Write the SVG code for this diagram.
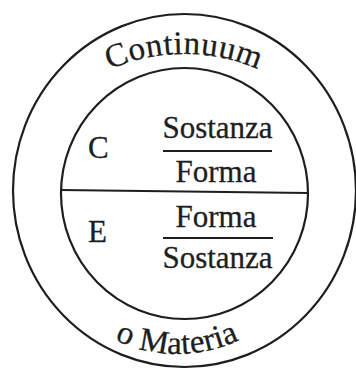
<svg xmlns="http://www.w3.org/2000/svg" width="356" height="370" viewBox="0 0 356 370">
  <style>
    .ring { fill: none; stroke: #1e1e1e; stroke-width: 2.2; }
    .rule { stroke: #1e1e1e; stroke-width: 2; }
    .t { font-family: "Liberation Serif", "Times New Roman", serif; font-size: 31px; fill: #1e1e1e; stroke: #1e1e1e; stroke-width: 0.3; }
    .arc { font-size: 33px; }
  </style>
  <defs>
    <path id="arcTop" d="M 14 166 A 185 185 0 0 1 354 166"/>
    <path id="arcBottom" d="M 47 273.2 A 145 145 0 0 0 307 273.2"/>
  </defs>
  <rect width="356" height="370" fill="#ffffff"/>
  <g id="outer">
    <ellipse class="ring" cx="184.5" cy="190.5" rx="171.5" ry="176.5"/>
    <text class="t arc" letter-spacing="0.5"><textPath href="#arcTop" startOffset="50%" text-anchor="middle">Continuum</textPath></text>
    <text class="t arc" letter-spacing="0.2"><textPath href="#arcBottom" startOffset="50%" text-anchor="middle">o Materia</textPath></text>
  </g>
  <g id="inner">
    <ellipse class="ring" cx="184.5" cy="193.5" rx="123.5" ry="125.5"/>
  </g>
  <g id="connectors">
    <line class="rule" x1="61" y1="190" x2="308" y2="193"/>
  </g>
  <g id="content-C">
    <text class="t" x="88" y="158">C</text>
    <text class="t" x="217.5" y="138" text-anchor="middle">Sostanza</text>
    <line class="rule" x1="163" y1="151" x2="272" y2="151"/>
    <text class="t" x="216" y="182" text-anchor="middle">Forma</text>
  </g>
  <g id="content-E">
    <text class="t" x="88" y="242">E</text>
    <text class="t" x="216" y="227" text-anchor="middle">Forma</text>
    <line class="rule" x1="163" y1="238" x2="273" y2="238"/>
    <text class="t" x="217.5" y="268" text-anchor="middle">Sostanza</text>
  </g>
</svg>
